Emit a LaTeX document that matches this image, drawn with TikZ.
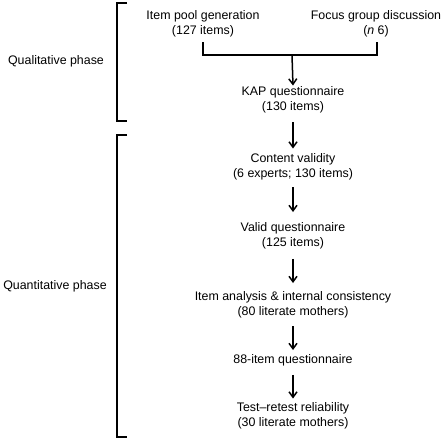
\documentclass[tikz,border=0pt]{standalone}
\usepackage{fontspec}
\setmainfont{Liberation Sans}
\usetikzlibrary{arrows.meta}
\begin{document}
\begin{tikzpicture}[x=1pt,y=-1pt,
  txt/.style={align=center,inner sep=0pt,font=\fontsize{12.4}{15}\selectfont},
  arr/.style={line width=1.5pt,-{Straight Barb[length=5.5pt,width=8pt,line width=1.5pt]}},
  brk/.style={line width=1.5pt},
  conn/.style={line width=1.5pt}]
\useasboundingbox (0,0) rectangle (442,440);
% labels
\node[txt] (qual) at (56,61) {Qualitative phase};
\node[txt] (quan) at (55,286) {Quantitative phase};
% brackets
\coordinate (b1t) at (127,3);
\coordinate (b1b) at (127,121);
\coordinate (b2t) at (127,135);
\coordinate (b2b) at (127,437);
\draw[brk] (b1t) -| (117,121) -- (b1b);
\draw[brk] (b2t) -| (117,437) -- (b2b);
% nodes
\node[txt] (pool) at (203,23.5) {Item pool generation\\(127 items)};
\node[txt] (focus) at (376,23.5) {Focus group discussion\\(\textit{n} 6)};
\node[txt] (kap) at (293,100) {KAP questionnaire\\(130 items)};
\node[txt] (cv) at (293,167) {Content validity\\(6 experts; 130 items)};
\node[txt] (vq) at (293,235.5) {Valid questionnaire\\(125 items)};
\node[txt] (ia) at (293,304.5) {Item analysis \& internal consistency\\(80 literate mothers)};
\node[txt] (q88) at (293,360) {88-item questionnaire};
\node[txt] (tr) at (293,416) {Test--retest reliability\\(30 literate mothers)};
% merge connector
\coordinate (pl) at (203,42);
\coordinate (fr) at (377,42);
\coordinate (m) at (292,55);
\draw[conn] (pl) -- (203,55) -- (377,55) -- (fr);
\draw[arr] (m) -- ([yshift=1pt]kap.north);
\draw[arr] ([yshift=-9pt]kap.south) -- ([yshift=5pt]cv.north);
\draw[arr] ([yshift=-7pt]cv.south) -- ([yshift=10pt]vq.north);
\draw[arr] ([yshift=-10pt]vq.south) -- ([yshift=8pt]ia.north);
\draw[arr] ([yshift=-8.5pt]ia.south) -- ([yshift=4pt]q88.north);
\draw[arr] ([yshift=-9pt]q88.south) -- ([yshift=4pt]tr.north);
\end{tikzpicture}
\end{document}
